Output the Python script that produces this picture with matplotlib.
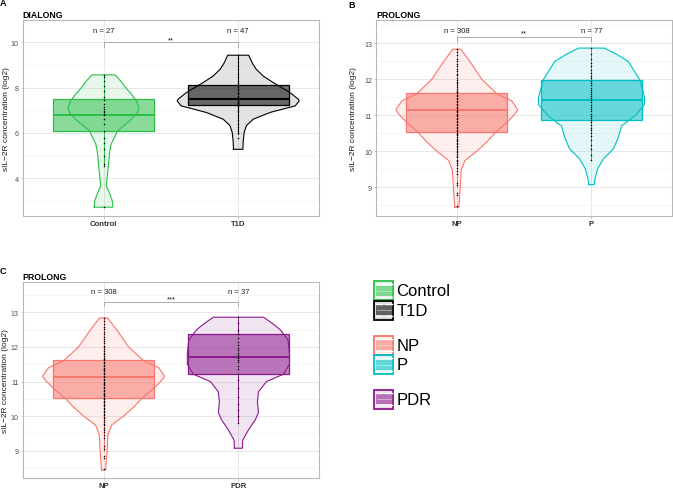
import matplotlib
matplotlib.use('Agg')
import matplotlib.pyplot as plt
from matplotlib.patches import Rectangle
from matplotlib.ticker import MultipleLocator

plt.rcParams['font.family'] = ['Liberation Sans', 'DejaVu Sans']

# ---------------- data ----------------
# Panel A (DIALONG)
a_groups = ['Control', 'T1D']
a_n = [27, 47]
a_q1 = [6.07, 7.24]
a_med = [6.79, 7.49]
a_q3 = [7.51, 8.12]
a_wlo = [4.55, 5.95]
a_whi = [8.56, 9.43]
a_sig = '**'

# Panel B (PROLONG NP vs P)
b_groups = ['NP', 'P']
b_n = [308, 77]
b_q1 = [10.53, 10.86]
b_med = [11.14, 11.42]
b_q3 = [11.61, 11.99]
b_wlo = [9.0, 9.76]
b_whi = [12.84, 12.87]
b_sig = '**'

# Panel C (PROLONG NP vs PDR)
c_groups = ['NP', 'PDR']
c_n = [308, 37]
c_q1 = [10.53, 11.21]
c_med = [11.14, 11.72]
c_q3 = [11.61, 12.36]
c_wlo = [9.0, 9.8]
c_whi = [12.84, 12.87]
c_sig = '***'

# violin outlines: y levels and relative density (half-width profile)
ctrl_vy = [2.71, 2.78, 3.0, 3.3, 3.66, 4.03, 4.62, 5.2, 5.5, 6.08, 6.3, 6.6, 6.9, 7.13, 7.4, 7.7, 8.0, 8.3, 8.56]
ctrl_vd = [9.3, 9.3, 8.7, 6.3, 2.7, 3.7, 5.0, 6.3, 7.7, 14, 20, 28, 34, 35.5, 33, 28, 22, 17, 11.5]
t1d_vy = [5.27, 5.6, 6.02, 6.32, 6.6, 6.9, 7.19, 7.41, 7.49, 7.78, 8.22, 8.51, 8.81, 9.09, 9.43]
t1d_vd = [4.7, 5, 6, 8.3, 15, 32, 57, 61, 60, 51.7, 35, 25, 18, 14, 10.5]
np_vy = [8.44, 8.53, 9.09, 9.46, 9.74, 10.0, 10.26, 10.53, 10.8, 11.0, 11.15, 11.4, 11.6, 12.0, 12.5, 12.84]
np_vd = [2, 2.3, 3.7, 4.3, 8, 20, 30, 39, 50, 57, 61, 55, 40, 25, 13, 4]
p_vy = [9.07, 9.2, 9.5, 9.78, 10.07, 10.4, 10.7, 11.0, 11.3, 11.5, 12.0, 12.5, 12.7, 12.87]
p_vd = [2.7, 3.3, 6, 11.7, 22, 27, 30, 44, 53, 53, 48, 36.7, 25, 13]
pdr_vy = [9.07, 9.3, 9.6, 9.9, 10.1, 10.4, 10.7, 11.0, 11.21, 11.5, 11.8, 12.2, 12.5, 12.7, 12.86]
pdr_vd = [4, 4.3, 10, 17, 20, 19, 20, 28, 45, 51, 51, 49.5, 41.7, 33, 25]

# individual observations (visible points)
ctrl_pts = [8.56, 8.45, 8.29, 8.07, 7.85, 7.56, 7.45, 7.26, 7.15, 7.04, 6.97, 6.9, 6.82, 6.79,
            6.6, 6.38, 6.07, 5.76, 5.55, 5.28, 4.98, 4.62, 4.55, 2.71]
t1d_pts = [9.43, 9.3, 9.12, 8.95, 8.8, 8.62, 8.45, 8.3, 8.18, 8.1, 8.02, 7.95, 7.9, 7.82, 7.76,
           7.7, 7.64, 7.58, 7.53, 7.49, 7.45, 7.41, 7.37, 7.33, 7.3, 7.26, 7.22, 7.18, 7.12,
           7.05, 6.98, 6.9, 6.8, 6.7, 6.55, 6.4, 6.25, 6.1, 5.98, 5.75]
np_pts = [8.47, 8.78, 8.84, 9.05, 9.12, 9.38, 9.44, 9.53, 9.61, 9.66, 9.73, 9.77, 9.84, 9.88,
          9.93, 9.97, 10.02, 10.05, 10.11, 10.14, 10.2, 10.23, 10.28, 10.31, 10.35, 10.41,
          10.44, 10.49, 10.52, 10.57, 10.6, 10.65, 10.68, 10.73, 10.76, 10.81, 10.84, 10.89,
          10.92, 10.97, 11.0, 11.05, 11.08, 11.13, 11.16, 11.21, 11.24, 11.29, 11.32, 11.37,
          11.4, 11.45, 11.48, 11.53, 11.56, 11.61, 11.64, 11.69, 11.73, 11.79, 11.83, 11.89,
          11.93, 11.99, 12.04, 12.11, 12.16, 12.23, 12.28, 12.36, 12.42, 12.51, 12.58, 12.67,
          12.76, 12.84]
p_pts = [9.76, 9.9, 10.05, 10.18, 10.3, 10.42, 10.5, 10.58, 10.66, 10.74, 10.8, 10.86, 10.93,
         10.99, 11.05, 11.12, 11.18, 11.24, 11.3, 11.36, 11.42, 11.47, 11.53, 11.58, 11.64,
         11.7, 11.76, 11.83, 11.9, 11.96, 12.03, 12.1, 12.18, 12.27, 12.36, 12.46, 12.57,
         12.7, 12.87]
pdr_pts = [9.8, 10.0, 10.18, 10.35, 10.55, 10.8, 11.05, 11.22, 11.35, 11.46, 11.55, 11.62,
           11.68, 11.72, 11.76, 11.82, 11.9, 11.98, 12.06, 12.15, 12.25, 12.36, 12.5, 12.68,
           12.87]

legend_labels = ['Control', 'T1D', 'NP', 'P', 'PDR']

# ---------------- style ----------------
COL = {'Control': '#2BBF4A', 'T1D': '#000000', 'NP': '#F8766D', 'P': '#00BFC4', 'PDR': '#8B1A8B'}
VIOLIN_SCALE = 1 / 134.6   # density units -> category units
BOX_HALF = 0.375
GRID = '#E4E4E4'
GRID_MINOR = '#F1F1F1'
BORDER = '#B8B8B8'
TICKCOL = '#4D4D4D'

W, H = 673, 489
fig = plt.figure(figsize=(W / 100, H / 100), dpi=100)


def px_axes(l, t, r, b):
    return fig.add_axes([l / W, 1 - b / H, (r - l) / W, (b - t) / H])


def draw_group(ax, x, name, vy, vd, q1, med, q3, wlo, whi, pts):
    c = COL[name]
    hw = [d * VIOLIN_SCALE for d in vd]
    left = [x - h for h in hw]
    right = [x + h for h in hw]
    ax.fill_betweenx(vy, left, right, facecolor=c, alpha=0.11, edgecolor='none', zorder=2)
    xs = left + right[::-1] + [left[0]]
    ys = vy + vy[::-1] + [vy[0]]
    ax.plot(xs, ys, color=c, lw=0.8, zorder=3)
    # whiskers
    ax.plot([x, x], [q3, whi], color=c, lw=0.7, zorder=3)
    ax.plot([x, x], [wlo, q1], color=c, lw=0.7, zorder=3)
    # box
    ax.add_patch(Rectangle((x - BOX_HALF, q1), 2 * BOX_HALF, q3 - q1, facecolor=c, alpha=0.55,
                           edgecolor='none', zorder=4))
    ax.add_patch(Rectangle((x - BOX_HALF, q1), 2 * BOX_HALF, q3 - q1, facecolor='none',
                           edgecolor=c, lw=0.9, zorder=5))
    ax.plot([x - BOX_HALF, x + BOX_HALF], [med, med], color=c, lw=1.4, zorder=5,
            solid_capstyle='butt')
    ax.plot([x] * len(pts), pts, ls='none', marker='o', ms=1.1, mew=0, color='black', zorder=6)


def setup_axes(ax, groups, ylim, ticks, minor):
    ax.set_xlim(0.4, 2.6)
    ax.set_ylim(*ylim)
    ax.set_xticks([1, 2])
    ax.set_xticklabels(groups, fontsize=5.6, fontweight='bold', color='#333333')
    ax.set_yticks(ticks)
    ax.set_yticklabels([str(t) for t in ticks], fontsize=5.1, color=TICKCOL)
    ax.yaxis.set_minor_locator(MultipleLocator(minor))
    ax.grid(True, which='major', color=GRID, lw=0.6, zorder=0)
    ax.grid(True, which='minor', axis='y', color=GRID_MINOR, lw=0.45, zorder=0)
    ax.set_axisbelow(True)
    ax.tick_params(which='major', length=1.8, width=0.5, color=BORDER)
    ax.tick_params(axis='x', which='major', pad=0.8)
    ax.tick_params(axis='y', which='major', pad=1.0)
    ax.tick_params(which='minor', length=0)
    for s in ax.spines.values():
        s.set_color(BORDER)
        s.set_linewidth(0.8)
    ax.set_ylabel('sIL\u22122R concentration (log2)', fontsize=6.0, color='#1A1A1A')


def annotate(ax, n, sig, ny, bracket_y, drop, star_y):
    for i, v in enumerate(n):
        ax.text(i + 1, ny, f'n = {v}', ha='center', va='center', fontsize=5.5, color='#1A1A1A')
    ax.plot([1, 1, 2, 2], [bracket_y - drop, bracket_y, bracket_y, bracket_y - drop],
            color='#A0A0A0', lw=0.6, zorder=3)
    ax.text(1.5, star_y, sig, ha='center', va='baseline', fontsize=5.5, color='#1A1A1A')


# ---- Panel A ----
axA = px_axes(22.7, 20.7, 319, 217)
setup_axes(axA, a_groups, (2.32, 11.0), [4, 6, 8, 10], 1)
draw_group(axA, 1, 'Control', ctrl_vy, ctrl_vd, a_q1[0], a_med[0], a_q3[0], a_wlo[0], a_whi[0], ctrl_pts)
draw_group(axA, 2, 'T1D', t1d_vy, t1d_vd, a_q1[1], a_med[1], a_q3[1], a_wlo[1], a_whi[1], t1d_pts)
annotate(axA, a_n, a_sig, 10.54, 10.0, 0.22, 10.06)
axA.yaxis.set_label_coords(-12.7 / 296.3, 0.5)

# ---- Panel B ----
axB = px_axes(376, 20.7, 672.3, 217.3)
setup_axes(axB, b_groups, (8.19, 13.66), [9, 10, 11, 12, 13], 0.5)
draw_group(axB, 1, 'NP', np_vy, np_vd, b_q1[0], b_med[0], b_q3[0], b_wlo[0], b_whi[0], np_pts)
draw_group(axB, 2, 'P', p_vy, p_vd, b_q1[1], b_med[1], b_q3[1], b_wlo[1], b_whi[1], p_pts)
annotate(axB, b_n, b_sig, 13.37, 13.19, 0.14, 13.24)
axB.yaxis.set_label_coords(-19.3 / 296.3, 0.5)

# ---- Panel C ----
axC = px_axes(22.7, 283.3, 319.3, 479.3)
setup_axes(axC, c_groups, (8.20, 13.87), [9, 10, 11, 12, 13], 0.5)
draw_group(axC, 1, 'NP', np_vy, np_vd, c_q1[0], c_med[0], c_q3[0], c_wlo[0], c_whi[0], np_pts)
draw_group(axC, 2, 'PDR', pdr_vy, pdr_vd, c_q1[1], c_med[1], c_q3[1], c_wlo[1], c_whi[1], pdr_pts)
annotate(axC, c_n, c_sig, 13.59, 13.31, 0.135, 13.35)
axC.yaxis.set_label_coords(-13.2 / 296.6, 0.5)

# ---- titles / panel letters ----
def ftext(x, y, s, **kw):
    fig.text(x / W, 1 - y / H, s, va='baseline', **kw)

ftext(0, 5.8, 'A', fontsize=6.5, fontweight='bold')
ftext(22.7, 18.3, 'DIALONG', fontsize=6.3, fontweight='bold')
ftext(348, 8.3, 'B', fontsize=6.5, fontweight='bold')
ftext(376.7, 18.3, 'PROLONG', fontsize=6.3, fontweight='bold')
ftext(0, 274, 'C', fontsize=6.5, fontweight='bold')
ftext(22.7, 280, 'PROLONG', fontsize=6.3, fontweight='bold')

# ---- legend ----
lax = fig.add_axes([0, 0, 1, 1])
lax.set_xlim(0, W)
lax.set_ylim(H, 0)
lax.axis('off')
key_tops = [282, 301.5, 336.5, 356, 390.5]
KX, KS = 374, 19
for lab, top in zip(legend_labels, key_tops):
    c = COL[lab]
    lax.add_patch(Rectangle((KX, top), KS, KS, facecolor=c, alpha=0.15, edgecolor='none'))
    lax.add_patch(Rectangle((KX + 1.5, top + 4.5), KS - 3, KS - 9, facecolor=c, alpha=0.55,
                            edgecolor='none'))
    lax.add_patch(Rectangle((KX, top), KS, KS, facecolor='none', edgecolor=c, lw=1.3))
    for yy in (top + 3.2, top + KS - 3.2):
        lax.plot([KX + 1.5, KX + KS / 2 - 1.2], [yy, yy], color='white', lw=1.0)
        lax.plot([KX + KS / 2 + 1.2, KX + KS - 1.5], [yy, yy], color='white', lw=1.0)
    lax.plot([KX + 2.5, KX + KS - 2.5], [top + KS / 2, top + KS / 2], color='white', lw=0.6,
             alpha=0.5)
    lax.text(KX + KS + 3.5, top + KS / 2 + 0.5, lab, fontsize=12, va='center', ha='left',
             color='black')

fig.savefig('out.png', dpi=100)
